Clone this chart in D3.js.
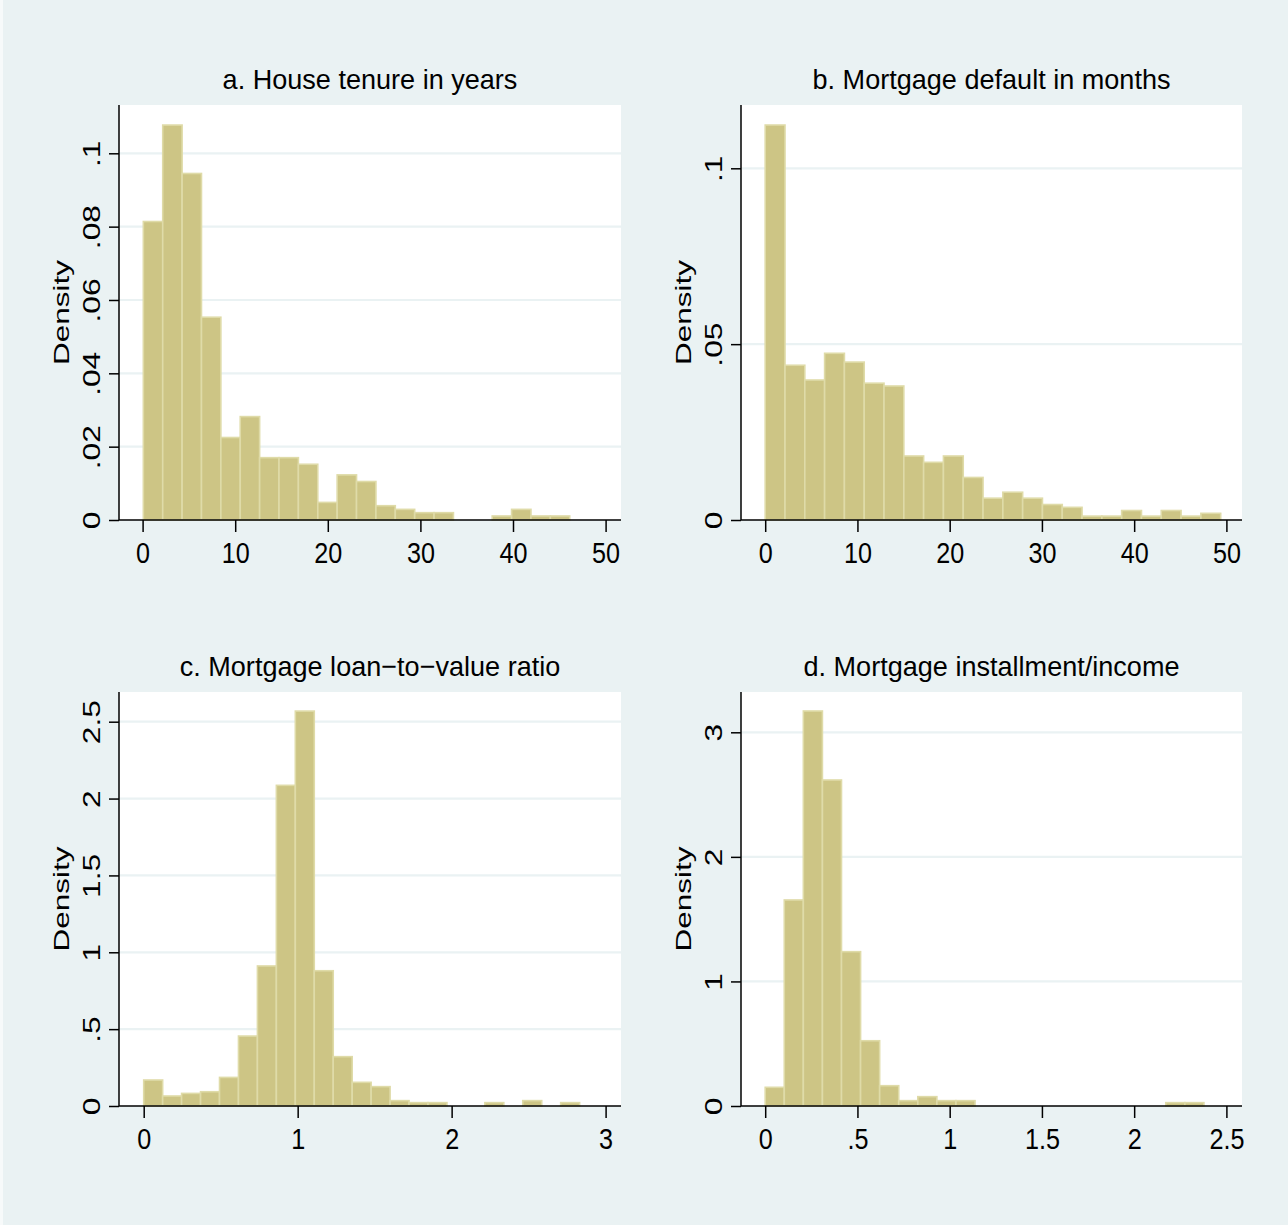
<!DOCTYPE html>
<html><head><meta charset="utf-8">
<script src="https://cdn.jsdelivr.net/npm/d3@7"></script>
<style>body{margin:0;background:#eaf2f3}svg{display:block}</style>
</head><body>
<svg id="chart" width="1288" height="1225"></svg>
<script>
// ---------- DATA ----------
const panelTitles = ["a. House tenure in years", "b. Mortgage default in months",
                     "c. Mortgage loan\u2212to\u2212value ratio", "d. Mortgage installment/income"];
const yLabel = "Density";

// a. House tenure (years) histogram
const tenureBinStart = 0.08, tenureBinWidth = 2.093;
const tenureDensity = [0.0814,0.1077,0.0945,0.0553,0.0225,0.0282,0.0170,0.0170,0.0152,0.0048,0.0123,
                       0.0105,0.0039,0.0029,0.0020,0.0020,0,0,0.0011,0.0029,0.0011,0.0011];
const tenureXTicks = [0,10,20,30,40,50];
const tenureYTicks = [0,0.02,0.04,0.06,0.08,0.1];

// b. Mortgage default (months) histogram
const defaultBinStart = 0, defaultBinWidth = 2.147;
const defaultDensity = [0.1123,0.0440,0.0398,0.0474,0.0449,0.0389,0.0381,0.0182,0.0164,0.0182,0.0121,
                        0.0062,0.0079,0.0062,0.0044,0.0036,0.0011,0.0011,0.0027,0.0011,0.0027,0.0011,0.0019];
const defaultXTicks = [0,10,20,30,40,50];
const defaultYTicks = [0,0.05,0.1];

// c. Loan-to-value ratio histogram
const ltvBinStart = 0, ltvBinWidth = 0.1231;
const ltvDensity = [0.169,0.065,0.082,0.093,0.186,0.455,0.911,2.086,2.569,0.880,0.321,0.154,
                    0.126,0.035,0.022,0.022,0,0,0.022,0,0.035,0,0.022];
const ltvXTicks = [0,1,2,3];
const ltvYTicks = [0,0.5,1,1.5,2,2.5];

// d. Installment / income histogram
const pirBinStart = 0, pirBinWidth = 0.1034;
const pirDensity = [0.150,1.654,3.171,2.617,1.239,0.524,0.163,0.043,0.075,0.043,0.043,
                    0,0,0,0,0,0,0,0,0,0,0.027,0.027];
const pirXTicks = [0,0.5,1,1.5,2,2.5];
const pirYTicks = [0,1,2,3];

// ---------- LAYOUT ----------
const BG = "#eaf2f3", BAR = "#cdc585", BAR_EDGE = "#dfdba8";
const FONT = "'Liberation Sans', Arial, Helvetica, sans-serif";
const svg = d3.select("#chart");
svg.append("rect").attr("width",1288).attr("height",1225).attr("fill",BG);
svg.append("rect").attr("width",3).attr("height",1225).attr("fill","#f7fafa");

const fmt = d => d === 0 ? "0" : String(d).replace(/^0\./, ".");

const panels = [
  {title: panelTitles[0], box:{L:119,R:621,T:105,B:520}, xd:[0,50], xr:[142.6,605.6], yd:[0,0.1], yr:[520,153.3],
   start:tenureBinStart, w:tenureBinWidth, dens:tenureDensity, xt:tenureXTicks, yt:tenureYTicks},
  {title: panelTitles[1], box:{L:741,R:1242,T:105,B:520}, xd:[0,50], xr:[765.2,1226.4], yd:[0,0.1], yr:[520,168.3],
   start:defaultBinStart, w:defaultBinWidth, dens:defaultDensity, xt:defaultXTicks, yt:defaultYTicks},
  {title: panelTitles[2], box:{L:119,R:621,T:692,B:1106}, xd:[0,3], xr:[143.7,605.6], yd:[0,2.5], yr:[1106,721.7],
   start:ltvBinStart, w:ltvBinWidth, dens:ltvDensity, xt:ltvXTicks, yt:ltvYTicks},
  {title: panelTitles[3], box:{L:741,R:1242,T:692,B:1106}, xd:[0,2.5], xr:[765.2,1226.4], yd:[0,3], yr:[1106,732.3],
   start:pirBinStart, w:pirBinWidth, dens:pirDensity, xt:pirXTicks, yt:pirYTicks}
];

panels.forEach(p => {
  const {L,R,T,B} = p.box;
  const x = d3.scaleLinear().domain(p.xd).range(p.xr);
  const y = d3.scaleLinear().domain(p.yd).range(p.yr);
  const g = svg.append("g");

  g.append("rect").attr("x",L).attr("y",T).attr("width",R-L).attr("height",B-T).attr("fill","#fff");

  g.selectAll("line.grid").data(p.yt.filter(d => d > 0)).join("line").attr("class","grid")
    .attr("x1",L).attr("x2",R).attr("y1",d=>y(d)).attr("y2",d=>y(d))
    .attr("stroke",BG).attr("stroke-width",2.2);

  const bins = p.dens.map((d,i) => ({d, x0: p.start + i*p.w, x1: p.start + (i+1)*p.w})).filter(b => b.d > 0);
  g.selectAll("rect.bar").data(bins).join("rect").attr("class","bar")
    .attr("x",b=>x(b.x0)).attr("width",b=>x(b.x1)-x(b.x0))
    .attr("y",b=>y(b.d)).attr("height",b=>y(0)-y(b.d))
    .attr("fill",BAR).attr("stroke",BAR_EDGE).attr("stroke-width",1.6);

  // x axis
  const gx = g.append("g").attr("transform",`translate(0,${B})`)
    .call(d3.axisBottom(x).tickValues(p.xt).tickSize(12).tickFormat(fmt));
  gx.select(".domain").remove();
  gx.selectAll(".tick line").attr("stroke","#000").attr("stroke-width",1.5);
  gx.selectAll(".tick text").attr("y",43).attr("dy",null).attr("fill","#000")
    .attr("font-family",FONT).attr("font-size",30).attr("transform","scale(0.84,1)")
    .attr("text-anchor","middle");

  // y axis
  const gy = g.append("g").attr("transform",`translate(${L},0)`)
    .call(d3.axisLeft(y).tickValues(p.yt).tickSize(10).tickFormat(fmt));
  gy.select(".domain").remove();
  gy.selectAll(".tick line").attr("stroke","#000").attr("stroke-width",1.5);
  gy.selectAll(".tick text").attr("x",null).attr("dy",null).attr("fill","#000")
    .attr("font-family",FONT).attr("font-size",23.5).attr("text-anchor","middle")
    .attr("transform","translate(-19,0) rotate(-90) scale(1.35,1)");

  g.append("line").attr("x1",L).attr("x2",R).attr("y1",y(0)).attr("y2",y(0)).attr("stroke","#000").attr("stroke-width",1.5);
  g.append("line").attr("x1",L).attr("x2",L).attr("y1",T).attr("y2",B).attr("stroke","#000").attr("stroke-width",1.5);

  g.append("text").attr("transform",`translate(${L-50},${(T+B)/2}) rotate(-90) scale(1.4,1)`)
    .attr("text-anchor","middle").attr("font-family",FONT).attr("font-size",22.5).attr("fill","#000").text(yLabel);

  g.append("text").attr("transform",`translate(${(L+R)/2},${T-16}) scale(0.95,1)`).attr("text-anchor","middle")
    .attr("font-family",FONT).attr("font-size",28.5).attr("fill","#000").text(p.title);
});
</script>
</body></html>
